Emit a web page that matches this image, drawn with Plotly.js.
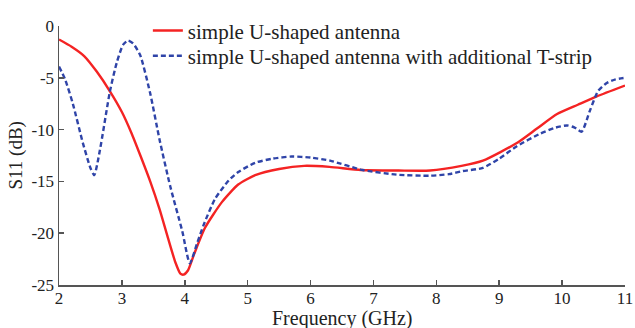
<!DOCTYPE html>
<html>
<head>
<meta charset="utf-8">
<script src="https://cdn.plot.ly/plotly-3.0.1.min.js"></script>
<style>
  html, body { margin: 0; padding: 0; background: #fff; }
  #chart { width: 635px; height: 328px; }
</style>
</head>
<body>
<div id="chart"></div>
<script>
// Return loss S11 (dB) versus frequency (GHz) for the two antenna variants
const freqSimple = [2.0, 2.2, 2.4, 2.6, 2.81, 3.0, 3.15, 3.3, 3.45, 3.6, 3.73, 3.85, 3.93, 3.98, 4.05, 4.15, 4.32, 4.59, 4.85, 5.12, 5.5, 5.9, 6.3, 6.8, 7.4, 7.9, 8.4, 8.74, 9.28, 9.6, 9.92, 10.25, 10.55, 11.0];
const s11Simple  = [-1.3, -2.0, -2.9, -4.4, -6.3, -8.3, -10.3, -12.6, -15.0, -17.7, -20.4, -22.8, -23.9, -24.0, -23.6, -22.0, -19.5, -17.0, -15.3, -14.4, -13.8, -13.5, -13.6, -13.9, -13.95, -13.95, -13.5, -13.0, -11.3, -9.9, -8.5, -7.6, -6.8, -5.75];

const freqTStrip = [2.0, 2.1, 2.22, 2.38, 2.5, 2.56, 2.65, 2.81, 2.92, 3.02, 3.1, 3.18, 3.29, 3.45, 3.6, 3.77, 3.96, 4.08, 4.2, 4.3, 4.48, 4.7, 4.85, 5.12, 5.4, 5.7, 6.0, 6.31, 6.83, 7.37, 7.9, 8.2, 8.42, 8.74, 9.0, 9.28, 9.65, 9.9, 10.08, 10.2, 10.31, 10.44, 10.57, 10.71, 10.85, 11.0];
const s11TStrip  = [-3.9, -5.2, -7.5, -11.3, -13.7, -14.4, -12.0, -6.3, -3.5, -1.8, -1.4, -1.7, -2.8, -6.5, -11.0, -15.5, -19.8, -22.9, -20.9, -19.2, -16.7, -14.9, -14.1, -13.2, -12.8, -12.6, -12.7, -13.0, -13.9, -14.35, -14.45, -14.3, -14.0, -13.7, -12.8, -11.6, -10.4, -9.8, -9.6, -9.8, -10.2, -8.2, -6.3, -5.5, -5.15, -5.0];

const seriesNames = ['simple U-shaped antenna', 'simple U-shaped antenna with additional T-strip'];
const xTicks = [2, 3, 4, 5, 6, 7, 8, 9, 10, 11];
const yTicks = [0, -5, -10, -15, -20, -25];

const serif = 'Liberation Serif';
const ink = '#222';

const traces = [
  {
    x: freqSimple, y: s11Simple, name: seriesNames[0], legend: 'legend',
    type: 'scatter', mode: 'lines',
    line: { color: '#f42323', width: 2.4, shape: 'spline', smoothing: 0.6 }
  },
  {
    x: freqTStrip, y: s11TStrip, name: seriesNames[1], legend: 'legend2',
    type: 'scatter', mode: 'lines',
    line: { color: '#2f44a8', width: 2.4, dash: '5px,3px', shape: 'spline', smoothing: 0.6 }
  }
];

const axisCommon = {
  showgrid: false, zeroline: false, showline: true,
  linecolor: '#555', linewidth: 1.5,
  ticks: 'inside', ticklen: 5, tickwidth: 1.5, tickcolor: '#555',
  tickfont: { family: serif, size: 17, color: ink }
};

// one legend box per entry so the two rows sit at a fixed spacing
const legendBox = (yPos) => ({
  x: 0.157, xanchor: 'left', y: yPos, yanchor: 'middle',
  bgcolor: 'rgba(0,0,0,0)', borderwidth: 0,
  font: { family: serif, size: 21, color: ink }
});

const layout = {
  width: 635, height: 328,
  margin: { l: 59, r: 10, t: 20, b: 43 },
  paper_bgcolor: '#fff', plot_bgcolor: '#fff',
  font: { family: serif, color: ink },
  showlegend: true,
  legend: legendBox(0.981),
  legend2: legendBox(0.884),
  xaxis: Object.assign({}, axisCommon, {
    range: [2, 11], tickvals: xTicks, ticktext: xTicks.map(String),
    ticklabelstandoff: -3
  }),
  yaxis: Object.assign({}, axisCommon, {
    range: [-25, 0], tickvals: yTicks, ticktext: yTicks.map(String)
  }),
  // axis titles placed as paper annotations so they sit just clear of the tick labels
  annotations: [
    {
      text: 'Frequency (GHz)', xref: 'paper', yref: 'paper',
      x: 0.5, y: 0, yshift: -20, xanchor: 'center', yanchor: 'top',
      showarrow: false, font: { family: serif, size: 20, color: ink }
    },
    {
      text: 'S11 (dB)', xref: 'paper', yref: 'paper', textangle: -90,
      x: 0, y: 0.5, xshift: -44, xanchor: 'center', yanchor: 'middle',
      showarrow: false, font: { family: serif, size: 19, color: ink }
    }
  ]
};

Plotly.newPlot('chart', traces, layout, { displayModeBar: false, staticPlot: true });
</script>
</body>
</html>
